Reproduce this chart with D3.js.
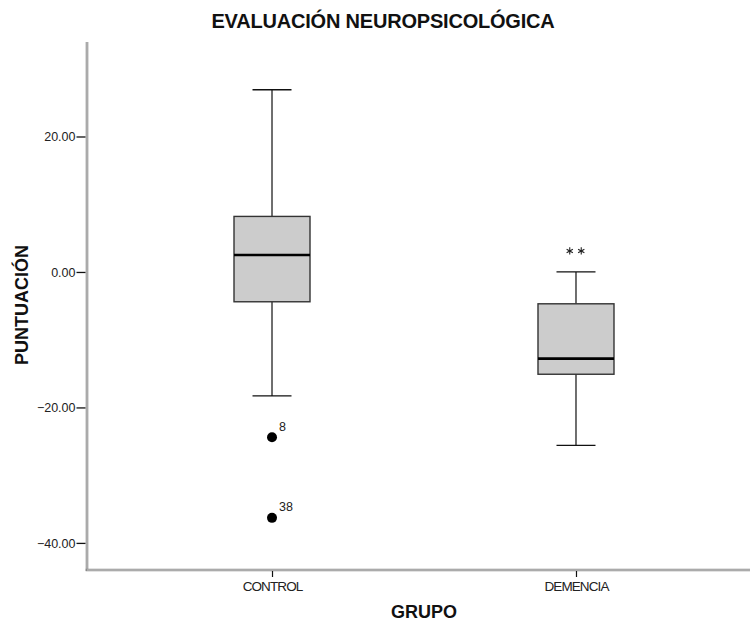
<!DOCTYPE html>
<html>
<head>
<meta charset="utf-8">
<script src="https://cdn.jsdelivr.net/npm/d3@7"></script>
<style>
  body { margin: 0; background: #fff; }
  svg { display: block; font-family: "Liberation Sans", Arial, sans-serif; }
</style>
</head>
<body>
<svg id="chart" width="750" height="623"></svg>
<script>
// ---- data ----
const categories = ["CONTROL", "DEMENCIA"];
const whiskerLow  = [-18.3, -25.6];
const q1          = [-4.4, -15.1];
const median      = [2.5, -12.8];
const q3          = [8.2, -4.7];
const whiskerHigh = [26.9, 0.0];

const outlierGroup  = ["CONTROL", "CONTROL"];
const outlierValues = [-24.4, -36.3];
const outlierLabels = ["8", "38"];

const extremeGroup  = ["DEMENCIA", "DEMENCIA"];
const extremeValues = [3.1, 3.1];

const yTicks = [-40, -20, 0, 20];
const titleText = "EVALUACIÓN NEUROPSICOLÓGICA";
const xTitle = "GRUPO";
const yTitle = "PUNTUACIÓN";

// ---- layout ----
const svg = d3.select("#chart");
const plot = { left: 87, right: 761, top: 42, bottom: 570 };

const y = d3.scaleLinear().domain([-44, 33.95]).range([plot.bottom, plot.top]);
const x = d3.scalePoint().domain(categories).range([plot.left, plot.right]).padding(0.6086);

const boxW = 76, capW = 39;

// title
svg.append("text")
  .attr("x", 383).attr("y", 28)
  .attr("text-anchor", "middle")
  .attr("font-size", 20).attr("font-weight", "bold")
  .attr("letter-spacing", "-0.2px")
  .attr("fill", "#111")
  .text(titleText);

// axes lines
svg.append("line")
  .attr("x1", plot.left).attr("x2", plot.left)
  .attr("y1", plot.top).attr("y2", plot.bottom + 1)
  .attr("stroke", "#8a8a8a").attr("stroke-width", 2.6);
svg.append("line")
  .attr("x1", plot.left).attr("x2", plot.left)
  .attr("y1", plot.top).attr("y2", plot.bottom)
  .attr("stroke", "#dcdcdc").attr("stroke-width", 0.8);
svg.append("line")
  .attr("x1", plot.left - 1.3).attr("x2", 750)
  .attr("y1", plot.bottom).attr("y2", plot.bottom)
  .attr("stroke", "#8a8a8a").attr("stroke-width", 2.6);
svg.append("line")
  .attr("x1", plot.left).attr("x2", 750)
  .attr("y1", plot.bottom).attr("y2", plot.bottom)
  .attr("stroke", "#dcdcdc").attr("stroke-width", 0.8);

// y axis ticks
const yAxis = d3.axisLeft(y).tickValues(yTicks).tickFormat(d3.format(".2f")).tickSize(9).tickSizeOuter(0);
const gy = svg.append("g").attr("transform", `translate(${plot.left - 1.5},0)`).call(yAxis);
gy.select(".domain").remove();
gy.selectAll(".tick line").attr("stroke", "#111").attr("stroke-width", 1.3);
gy.selectAll(".tick text")
  .attr("font-size", 12.5).attr("fill", "#222")
  .attr("font-family", "Liberation Sans, Arial, sans-serif")
  .attr("x", -10).attr("dy", "0.36em");

// x axis ticks
const xAxis = d3.axisBottom(x).tickSize(6).tickSizeOuter(0);
const gx = svg.append("g").attr("transform", `translate(0,${plot.bottom + 1})`).call(xAxis);
gx.select(".domain").remove();
gx.selectAll(".tick line").attr("stroke", "#111").attr("stroke-width", 1.2);
gx.selectAll(".tick text")
  .attr("font-size", 13.5).attr("fill", "#222")
  .attr("letter-spacing", "-0.9px")
  .attr("font-family", "Liberation Sans, Arial, sans-serif")
  .attr("y", 20).attr("dy", 0);

// axis titles
svg.append("text")
  .attr("x", 424).attr("y", 618)
  .attr("text-anchor", "middle")
  .attr("font-size", 18).attr("font-weight", "bold").attr("fill", "#111")
  .text(xTitle);
svg.append("text")
  .attr("transform", "translate(28,305) rotate(-90)")
  .attr("text-anchor", "middle")
  .attr("font-size", 18).attr("font-weight", "bold").attr("fill", "#111")
  .text(yTitle);

// boxes
const boxes = categories.map((c, i) => ({ c, lo: whiskerLow[i], q1: q1[i], med: median[i], q3: q3[i], hi: whiskerHigh[i] }));
const g = svg.append("g");
const bg = g.selectAll("g.box").data(boxes).join("g").attr("class", "box");

// whisker stems
bg.append("line")
  .attr("x1", d => x(d.c)).attr("x2", d => x(d.c))
  .attr("y1", d => y(d.hi)).attr("y2", d => y(d.q3))
  .attr("stroke", "#222").attr("stroke-width", 1.3);
bg.append("line")
  .attr("x1", d => x(d.c)).attr("x2", d => x(d.c))
  .attr("y1", d => y(d.q1)).attr("y2", d => y(d.lo))
  .attr("stroke", "#222").attr("stroke-width", 1.3);
// caps
bg.append("line")
  .attr("x1", d => x(d.c) - capW / 2).attr("x2", d => x(d.c) + capW / 2)
  .attr("y1", d => y(d.hi)).attr("y2", d => y(d.hi))
  .attr("stroke", "#111").attr("stroke-width", 1.3);
bg.append("line")
  .attr("x1", d => x(d.c) - capW / 2).attr("x2", d => x(d.c) + capW / 2)
  .attr("y1", d => y(d.lo)).attr("y2", d => y(d.lo))
  .attr("stroke", "#111").attr("stroke-width", 1.3);
// box
bg.append("rect")
  .attr("x", d => x(d.c) - boxW / 2).attr("width", boxW)
  .attr("y", d => y(d.q3)).attr("height", d => y(d.q1) - y(d.q3))
  .attr("fill", "#cccccc").attr("stroke", "#333").attr("stroke-width", 1.4);
// median
bg.append("line")
  .attr("x1", d => x(d.c) - boxW / 2).attr("x2", d => x(d.c) + boxW / 2)
  .attr("y1", d => y(d.med)).attr("y2", d => y(d.med))
  .attr("stroke", "#000").attr("stroke-width", 2.6);

// outliers
const outliers = outlierValues.map((v, i) => ({ c: outlierGroup[i], v, label: outlierLabels[i] }));
g.selectAll("circle.out").data(outliers).join("circle")
  .attr("class", "out")
  .attr("cx", d => x(d.c)).attr("cy", d => y(d.v)).attr("r", 5)
  .attr("fill", "#000");
g.selectAll("text.outlab").data(outliers).join("text")
  .attr("class", "outlab")
  .attr("x", d => x(d.c) + 7).attr("y", d => y(d.v) - 6.5)
  .attr("font-size", 12.5).attr("fill", "#222")
  .text(d => d.label);

// extremes (asterisks)
const extremes = extremeValues.map((v, i) => ({ c: extremeGroup[i], v, i }));
const ast = d3.symbol().type(d3.symbolAsterisk).size(36);
g.selectAll("path.ext").data(extremes).join("path")
  .attr("class", "ext")
  .attr("transform", d => `translate(${x(d.c) + (d.i - 0.5) * 11.5 - 0.5},${y(d.v)})`)
  .attr("d", ast)
  .attr("fill", "none").attr("stroke", "#222").attr("stroke-width", 1.1);
</script>
</body>
</html>
